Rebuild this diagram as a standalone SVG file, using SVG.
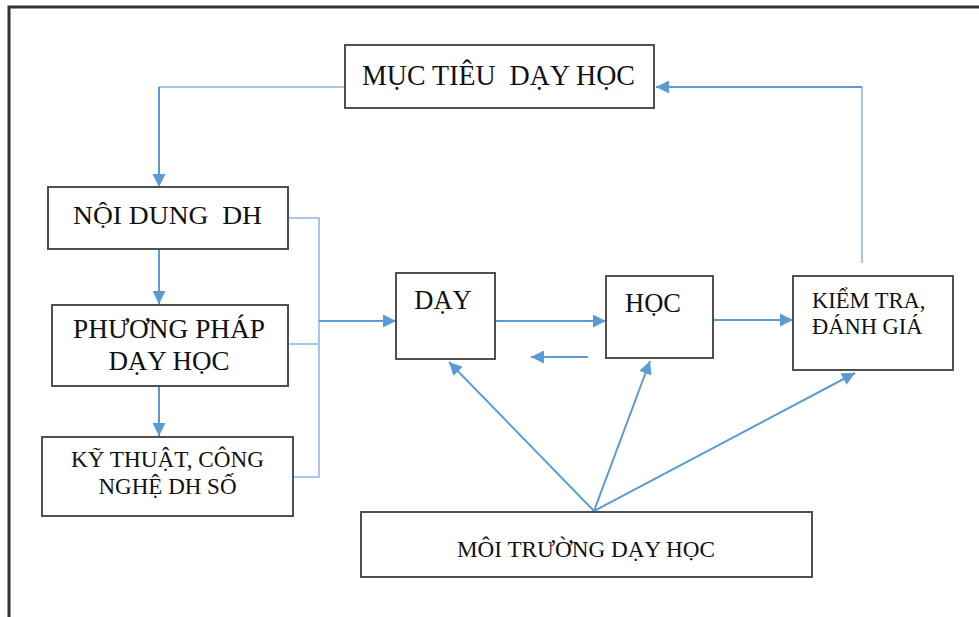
<svg xmlns="http://www.w3.org/2000/svg" width="979" height="617" viewBox="0 0 979 617">
<defs>
<style>
.box{fill:#fff;stroke:#505050;stroke-width:2}
.t{font-family:"Liberation Serif","DejaVu Serif",serif;fill:#111;white-space:pre}
.c{fill:none;stroke:#5b9bd5;stroke-width:2}
.l{fill:none;stroke:#a9c7ea;stroke-width:2}
.frame{fill:none;stroke:#333;stroke-width:3}
</style>
<marker id="ah" markerUnits="userSpaceOnUse" markerWidth="13" markerHeight="13" refX="13" refY="6.5" orient="auto">
<path d="M0,0 L13,6.5 L0,13 z" fill="#5b9bd5"/>
</marker>
</defs>
<rect width="979" height="617" fill="#fff"/>
<path class="frame" d="M9,617 V7 H979"/>

<g id="connectors">
<path class="l" d="M345,87 H159"/>
<path class="c" d="M159,87 V187" marker-end="url(#ah)"/>
<path class="c" d="M159,249 V304" marker-end="url(#ah)"/>
<path class="c" d="M159,386 V436" marker-end="url(#ah)"/>
<path class="l" d="M288,218 H319 V477 H293 M288,344 H319"/>
<path class="c" d="M319,321 H396" marker-end="url(#ah)"/>
<path class="c" d="M495,321 H606" marker-end="url(#ah)"/>
<path class="c" d="M588,357 H531" marker-end="url(#ah)"/>
<path class="c" d="M713,320 H793" marker-end="url(#ah)"/>
<path class="l" d="M862,263 V87"/>
<path class="c" d="M862,87 H656" marker-end="url(#ah)"/>
<path class="c" d="M594,511 L449,362" marker-end="url(#ah)"/>
<path class="c" d="M594,511 L650,361" marker-end="url(#ah)"/>
<path class="c" d="M594,511 L855,373" marker-end="url(#ah)"/>
</g>

<g id="muc-tieu">
<rect class="box" x="345" y="45" width="309" height="63"/>
<text class="t" x="498.5" y="85" font-size="30" text-anchor="middle" textLength="273" lengthAdjust="spacingAndGlyphs" xml:space="preserve">MỤC TIÊU  DẠY HỌC</text>
</g>

<g id="noi-dung">
<rect class="box" x="48" y="187" width="240" height="62"/>
<text class="t" x="167.5" y="224" font-size="26" text-anchor="middle" textLength="189" lengthAdjust="spacingAndGlyphs" xml:space="preserve">NỘI DUNG  DH</text>
</g>

<g id="phuong-phap">
<rect class="box" x="52" y="305" width="236" height="81"/>
<text class="t" x="169" y="338" font-size="27" text-anchor="middle" textLength="192" lengthAdjust="spacingAndGlyphs">PHƯƠNG PHÁP</text>
<text class="t" x="169" y="370" font-size="27" text-anchor="middle">DẠY HỌC</text>
</g>

<g id="ky-thuat">
<rect class="box" x="42" y="437" width="251" height="79"/>
<text class="t" x="167.5" y="467" font-size="23" text-anchor="middle" textLength="193" lengthAdjust="spacingAndGlyphs">KỸ THUẬT, CÔNG</text>
<text class="t" x="167.5" y="494" font-size="23" text-anchor="middle">NGHỆ DH SỐ</text>
</g>

<g id="day">
<rect class="box" x="396" y="273" width="99" height="86"/>
<text class="t" x="443" y="309" font-size="26.5" text-anchor="middle">DẠY</text>
</g>

<g id="hoc">
<rect class="box" x="606" y="276" width="107" height="82"/>
<text class="t" x="653" y="312" font-size="26.5" text-anchor="middle">HỌC</text>
</g>

<g id="kiem-tra">
<rect class="box" x="793" y="276" width="160" height="94"/>
<text class="t" x="812" y="308" font-size="22.5">KIỂM TRA,</text>
<text class="t" x="812" y="334" font-size="22.5">ĐÁNH GIÁ</text>
</g>

<g id="moi-truong">
<rect class="box" x="361" y="512" width="451" height="65"/>
<text class="t" x="586" y="557" font-size="23" text-anchor="middle" textLength="258" lengthAdjust="spacingAndGlyphs">MÔI TRƯỜNG DẠY HỌC</text>
</g>
</svg>
